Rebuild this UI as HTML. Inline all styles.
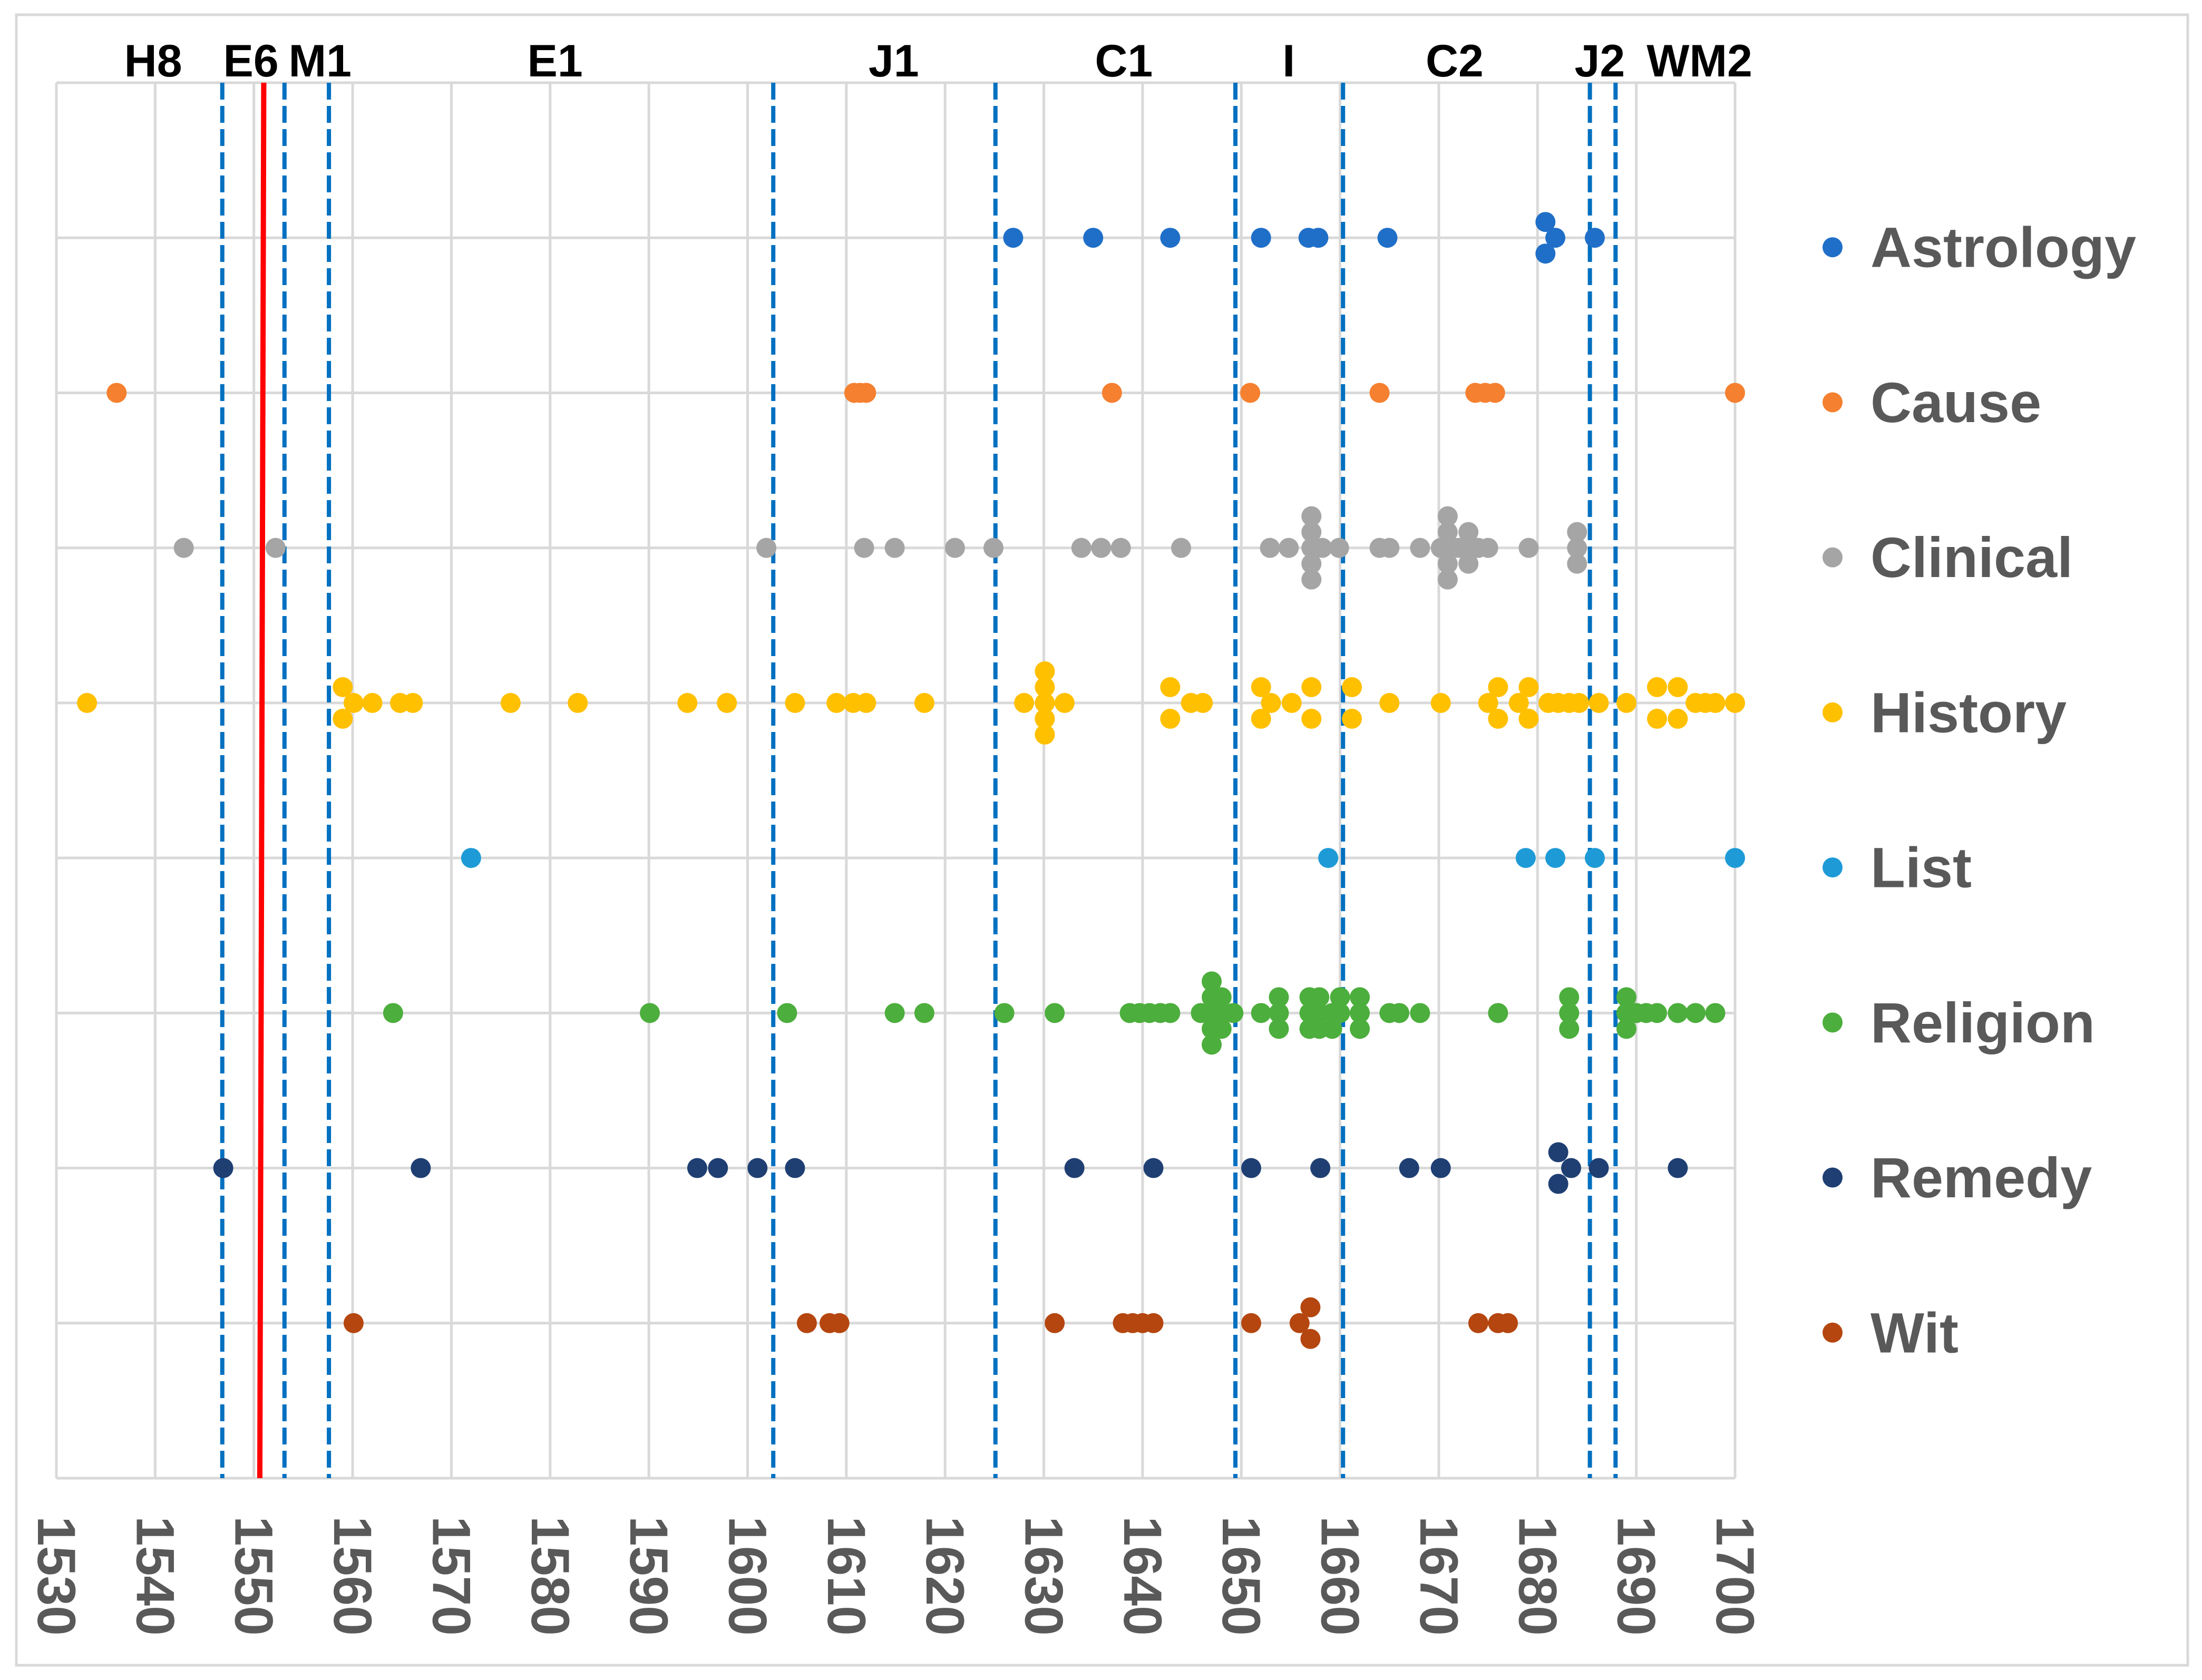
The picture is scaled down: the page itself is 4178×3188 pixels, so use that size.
<!DOCTYPE html>
<html><head><meta charset="utf-8"><style>
html,body{margin:0;padding:0;background:#fff}
svg{display:block}
</style></head><body>
<svg id="chart" xmlns="http://www.w3.org/2000/svg" width="4178" height="3188" viewBox="0 0 4178 3188">
<rect x="31" y="28" width="4120" height="3132" fill="#fff" stroke="#d9d9d9" stroke-width="5"/>
<g id="grid"></g>
<g id="ticks"></g>
<g id="periods"></g>
<g id="dots"></g>
<g id="legend"></g>
</svg>
<script>
const xTicks = [1530,1540,1550,1560,1570,1580,1590,1600,1610,1620,1630,1640,1650,1660,1670,1680,1690,1700];
const categories = ["Astrology","Cause","Clinical","History","List","Religion","Remedy","Wit"];
const colors = ["#1f6fc8","#f5802f","#a5a5a5","#ffc000","#1e9bd7","#4cae3c","#1f3f73","#b5460f"];
const periodLabels = ["H8","E6","M1","E1","J1","C1","I","C2","J2","WM2"];
const periodLabelYears = [1539.8,1549.7,1556.7,1580.5,1614.8,1638.1,1654.8,1671.6,1686.3,1696.4];
const dashedYears = [1546.8,1553.1,1557.6,1602.6,1625.1,1649.4,1660.3,1685.3,1687.9];
const redYearTop = 1551.0, redYearBottom = 1550.6;
// each point: [year, stack level]
const astrology = [[1626.9,0],[1635,0],[1642.8,0],[1652,0],[1656.8,0],[1657.8,0],[1664.8,0],[1680.8,-1],[1681.8,0],[1680.8,1],[1685.8,0]];
const cause = [[1536.1,0],[1610.8,0],[1611.4,0],[1612,0],[1636.9,0],[1650.9,0],[1664,0],[1673.7,0],[1674.7,0],[1675.7,0],[1700,0]];
const clinical = [[1542.9,0],[1552.2,0],[1601.9,0],[1611.8,0],[1614.9,0],[1621,0],[1624.9,0],[1633.8,0],[1635.8,0],[1637.8,0],[1643.9,0],[1652.9,0],[1654.8,0],
 [1657.1,-2],[1657.1,-1],[1657.1,0],[1657.1,1],[1657.1,2],[1658.2,0],[1659.9,0],[1664,0],[1665,0],[1668.1,0],
 [1670.2,0],[1670.9,-2],[1670.9,-1],[1670.9,0],[1670.9,1],[1670.9,2],[1672,0],[1673,-1],[1673,0],[1673,1],[1674,0],[1675,0],[1679.1,0],[1684,-1],[1684,0],[1684,1]];
const history = [[1533.1,0],[1559,-1],[1559,1],[1560.1,0],[1562,0],[1564.8,0],[1566.1,0],[1576,0],[1582.8,0],[1593.9,0],[1597.9,0],[1604.8,0],[1609,0],[1610.7,0],[1612,0],[1617.9,0],
 [1628,0],[1630.1,-2],[1630.1,-1],[1630.1,0],[1630.1,1],[1630.1,2],[1632.1,0],[1642.8,-1],[1642.8,1],[1644.9,0],[1646.1,0],
 [1652,-1],[1652,1],[1653,0],[1655.1,0],[1657.1,-1],[1657.1,1],[1661.2,-1],[1661.2,1],[1665,0],[1670.2,0],[1675,0],[1676,-1],[1676,1],[1678.1,0],[1679.1,-1],[1679.1,1],
 [1681.1,0],[1682.1,0],[1683.2,0],[1684.2,0],[1686.2,0],[1689,0],[1692.1,-1],[1692.1,1],[1694.2,-1],[1694.2,1],[1696,0],[1697,0],[1698,0],[1700,0]];
const list = [[1572,0],[1658.8,0],[1678.8,0],[1681.8,0],[1685.8,0],[1700,0]];
const religion = [[1564.1,0],[1590.1,0],[1604,0],[1614.9,0],[1617.9,0],[1626,0],[1631.1,0],[1638.7,0],[1639.7,0],[1640.7,0],[1641.8,0],[1642.8,0],[1645.9,0],
 [1647,-2],[1647,-1],[1647,0],[1647,1],[1647,2],[1648,-1],[1648,0],[1648,1],[1649.2,0],[1652,0],[1653.8,-1],[1653.8,0],[1653.8,1],
 [1656.9,-1],[1656.9,0],[1656.9,1],[1657.9,-1],[1657.9,0],[1657.9,1],[1659.2,0],[1659.2,1],[1660,-1],[1660,0],[1662,-1],[1662,0],[1662,1],
 [1665,0],[1666,0],[1668.1,0],[1676,0],[1683.2,-1],[1683.2,0],[1683.2,1],[1689,-1],[1689,0],[1689,1],[1690,0],[1691,0],[1692.1,0],[1694.2,0],[1696,0],[1698,0]];
const remedy = [[1546.9,0],[1566.9,0],[1594.9,0],[1597,0],[1601,0],[1604.8,0],[1633.1,0],[1641.1,0],[1651,0],[1658,0],[1667,0],[1670.2,0],[1682.1,-1],[1682.1,1],[1683.4,0],[1686.2,0],[1694.2,0]];
const wit = [[1560.1,0],[1606,0],[1608.3,0],[1609.3,0],[1631.1,0],[1638,0],[1639,0],[1640,0],[1641.1,0],[1651,0],[1655.9,0],[1657,-1],[1657,1],[1674,0],[1676,0],[1677,0]];
const series = [astrology,cause,clinical,history,list,religion,remedy,wit];

const NS="http://www.w3.org/2000/svg";
const X0=107,X1=3292,Y0=157,Y1=2805,XMIN=1530,XMAX=1700,ROWS=9;
const xs=v=>X0+(v-XMIN)/(XMAX-XMIN)*(X1-X0);
const ys=k=>Y0+k*(Y1-Y0)/ROWS;
const STEP=30;
function mk(tag,attrs,parent){const e=document.createElementNS(NS,tag);for(const k in attrs)e.setAttribute(k,attrs[k]);parent.appendChild(e);return e;}
const grid=document.getElementById('grid');
xTicks.forEach(t=>{
  const l=mk('line',{x1:xs(t),x2:xs(t),y1:Y0,y2:Y1,stroke:'#d9d9d9','stroke-width':5},grid);
  
  
});
for(let k=0;k<=ROWS;k++){
  const l=mk('line',{x1:X0,x2:X1,y1:ys(k),y2:ys(k),stroke:'#d9d9d9','stroke-width':5},grid);
  
  
}
const ticks=document.getElementById('ticks');
xTicks.forEach(t=>{
  const x=xs(t), y=2877;
  const tx=mk('text',{x:x,y:y,transform:`rotate(90 ${x} ${y})`,'font-family':'"Liberation Sans",sans-serif','font-weight':'bold','font-size':102,fill:'#595959','dominant-baseline':'central'},ticks);
  tx.textContent=t;
  
  
});
const per=document.getElementById('periods');
dashedYears.forEach(d=>{
  const l=mk('line',{x1:xs(d),x2:xs(d),y1:Y0,y2:Y1,stroke:'#0070c0','stroke-width':8,'stroke-dasharray':'32 12'},per);
  
  
});
const red=mk('line',{x1:xs(redYearTop),x2:xs(redYearBottom),y1:Y0,y2:Y1,stroke:'#ff0000','stroke-width':10},per);


periodLabels.forEach((p,i)=>{
  const t=mk('text',{x:xs(periodLabelYears[i]),y:145,'text-anchor':'middle','font-family':'"Liberation Sans",sans-serif','font-weight':'bold','font-size':86,fill:'#000'},per);
  t.textContent=p;
  
  
});
const dots=document.getElementById('dots');
series.forEach((s,si)=>{
  s.forEach(([yr,lv])=>{
    const c=mk('circle',{cx:xs(yr),cy:ys(si+1)+lv*STEP,r:19,fill:colors[si]},dots);
    
    
  });
});
const leg=document.getElementById('legend');
categories.forEach((c,i)=>{
  const y=ys(i+1)+18;
  const g=mk('g',{},leg);
  
  
  mk('circle',{cx:3477,cy:y,r:19,fill:colors[i]},g);
  const t=mk('text',{x:3549,y:y,'dominant-baseline':'central','font-family':'"Liberation Sans",sans-serif','font-weight':'bold','font-size':108,fill:'#595959'},g);
  t.textContent=c;
});
</script>
</body></html>
